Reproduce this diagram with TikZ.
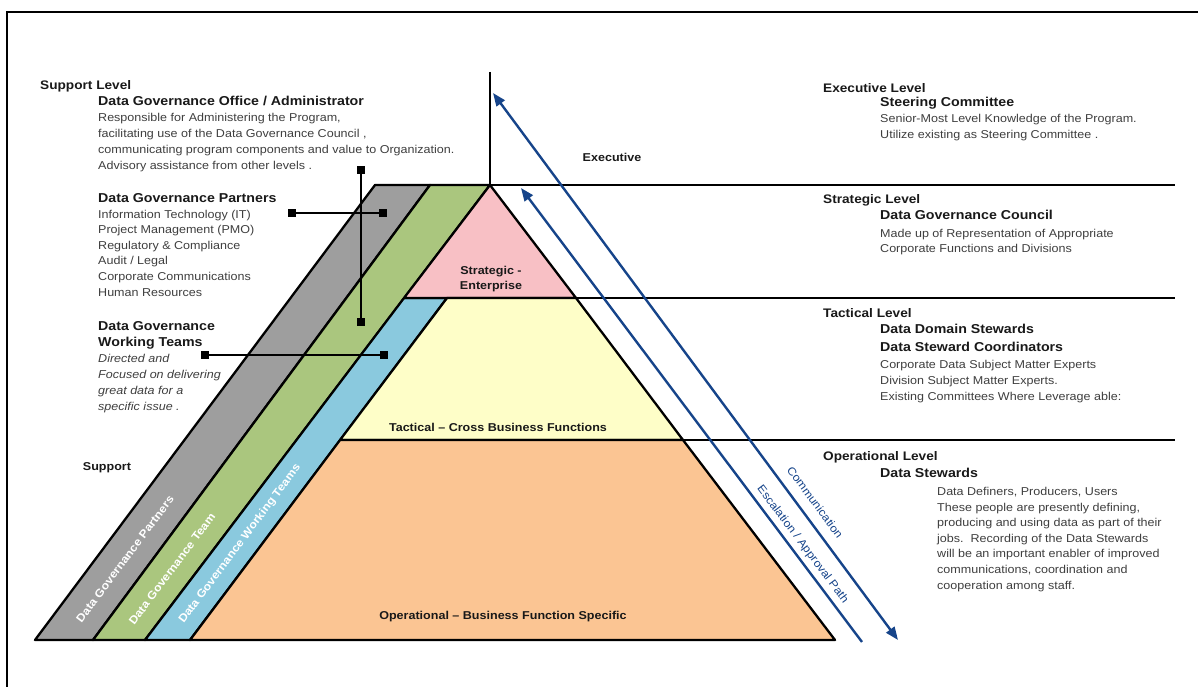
\documentclass[tikz,border=0pt]{standalone}
\usepackage{fontspec}
\setmainfont{Liberation Sans}[FakeStretch=1.1]
\usetikzlibrary{arrows.meta}

\definecolor{bandgray}{RGB}{158,158,158}
\definecolor{bandgreen}{RGB}{170,198,126}
\definecolor{bandblue}{RGB}{138,201,222}
\definecolor{tierpink}{RGB}{248,192,197}
\definecolor{tieryellow}{RGB}{254,254,200}
\definecolor{tierorange}{RGB}{251,197,147}
\definecolor{flowblue}{RGB}{22,68,138}
\definecolor{desctext}{RGB}{62,62,62}
\definecolor{headtext}{RGB}{25,25,25}

\tikzset{flowtip/.tip={Triangle[length=13pt,width=10pt]}}

\begin{document}
\begin{tikzpicture}[x=1pt,y=-1pt,
  outline/.style={draw=black, line width=2.3pt, line join=round},
  rule/.style={draw=black, line width=2.6pt},
  lvl/.style={anchor=base west, inner sep=0, text=headtext, font=\fontsize{12.4}{14}\selectfont\bfseries},
  role/.style={anchor=base west, inner sep=0, align=left, text=headtext, font=\fontsize{12.9}{18}\selectfont\bfseries},
  desc/.style={anchor=base west, inner sep=0, align=left, text=desctext, font=\fontsize{11.4}{16}\selectfont},
  tier/.style={inner sep=0, align=center, text=headtext, font=\fontsize{11.4}{15}\selectfont\bfseries},
  bandtext/.style={inner sep=0, text=white, rotate=53.2, font=\fontsize{11.2}{12}\selectfont\bfseries},
  marker/.style={fill=black, minimum size=8pt, inner sep=0, outer sep=0},
  link/.style={draw=black, line width=1.6pt},
  flow/.style={draw=flowblue, line width=2.4pt},
  flowtext/.style={text=flowblue, inner sep=0, font=\fontsize{11.2}{12}\selectfont}
]
\useasboundingbox (0,0) rectangle (1198,687);

% frame
\draw[line width=1.8pt] (7,687) -- (7,12) -- (1198,12);

% pyramid corners
\coordinate (apex) at (490,185);
\coordinate (gTL) at (375,185);
\coordinate (gTR) at (430,185);
\coordinate (gBL) at (35,640);
\coordinate (gBR) at (93,640);
\coordinate (grBR) at (145,640);
\coordinate (pL) at (404,298);
\coordinate (pR) at (576,298);
\coordinate (bTR) at (447,298);
\coordinate (bBR) at (190,640);
\coordinate (yBL) at (340,440);
\coordinate (yBR) at (683,440);
\coordinate (oBR) at (835,640);

% support bands
\draw[outline, fill=bandgray] (gTL) -- (gTR) -- (gBR) -- (gBL) -- cycle;
\draw[outline, fill=bandgreen] (gTR) -- (apex) -- (grBR) -- (gBR) -- cycle;
\draw[outline, fill=bandblue] (pL) -- (bTR) -- (bBR) -- (grBR) -- cycle;

% pyramid tiers
\draw[outline, fill=tierpink] (apex) -- (pR) -- (pL) -- cycle;
\draw[outline, fill=tieryellow] (bTR) -- (pR) -- (yBR) -- (yBL) -- cycle;
\draw[outline, fill=tierorange] (yBL) -- (yBR) -- (oBR) -- (bBR) -- cycle;

% level rules
\coordinate (topV) at (490,72);
\coordinate (r1) at (1175,185);
\coordinate (r2) at (1175,298);
\coordinate (r3) at (1175,440);
\draw[rule] (topV) -- (apex);
\draw[rule] (gTL) -- (r1);
\draw[rule] (pL) -- (r2);
\draw[rule] (yBL) -- (r3);
\draw[rule] (gBL) -- (oBR);

% band labels
\node[bandtext] (bl1) at (125,559) {Data Governance Partners};
\node[bandtext] (bl2) at (172,569) {Data Governance Team};
\node[bandtext] (bl3) at (240,544) {Data Governance Working Teams};

% tier labels
\node[tier] (tS) at (491,279) {Strategic -\\Enterprise};
\node[tier] (tT) at (498,427) {Tactical – Cross Business Functions};
\node[tier] (tO) at (503,617) {Operational – Business Function Specific};
\node[tier] (tE) at (612,157) {Executive};
\node[tier] (tSu) at (107,468) {Support};

% pointers from the left texts into the bands
\node[marker] (m1) at (361,170) {};
\node[marker] (m2) at (361,322) {};
\node[marker] (m3) at (292,213) {};
\node[marker] (m4) at (383,213) {};
\node[marker] (m5) at (205,355) {};
\node[marker] (m6) at (384,355) {};
\draw[link] (m1) -- (m2);
\draw[link] (m3) -- (m4);
\draw[link] (m5) -- (m6);

% communication and escalation paths
\coordinate (c1) at (898,640);
\coordinate (c2) at (493,93);
\coordinate (e1) at (862,642);
\coordinate (e2) at (521,188);
\draw[flow, {flowtip}-{flowtip}] (c2) -- node[flowtext, pos=0.765, sloped, above=10pt] (lc) {Communication} (c1);
\draw[flow, {flowtip}-] (e2) -- node[flowtext, pos=0.8, sloped, above=4.5pt] (le) {Escalation / Approval Path} (e1);

% left column (nodes anchored at the baseline of their last line)
\node[lvl] (sl) at (40,90) {Support Level};
\node[role] (dgo) at (98,106) {Data Governance Office / Administrator};
\node[desc] (dgod) at (98,170) {Responsible for Administering the Program,\\facilitating use of the Data Governance Council ,\\communicating program components and value to Organization.\\Advisory assistance from other levels .};
\node[role] (dgp) at (98,202) {Data Governance Partners};
\node[desc, font=\fontsize{11.4}{15.6}\selectfont] (dgpd) at (98,296) {Information Technology (IT)\\Project Management (PMO)\\Regulatory \& Compliance\\Audit / Legal\\Corporate Communications\\Human Resources};
\node[role, font=\fontsize{12.9}{16}\selectfont\bfseries] (dgw) at (98,346) {Data Governance\\Working Teams};
\node[desc, font=\fontsize{11.4}{16}\selectfont\itshape] (dgwd) at (98,410) {Directed and\\Focused on delivering\\great data for a\\specific issue .};

% right column
\node[lvl] (el) at (823,93) {Executive Level};
\node[role] (sc) at (880,107) {Steering Committee};
\node[desc] (scd) at (880,139) {Senior-Most Level Knowledge of the Program.\\Utilize existing as Steering Committee .};
\node[lvl] (stl) at (823,203) {Strategic Level};
\node[role] (dgc) at (880,219) {Data Governance Council};
\node[desc, font=\fontsize{11.4}{15}\selectfont] (dgcd) at (880,252) {Made up of Representation of Appropriate\\Corporate Functions and Divisions};
\node[lvl] (tl) at (823,317) {Tactical Level};
\node[role] (dds) at (880,351) {Data Domain Stewards\\Data Steward Coordinators};
\node[desc] (ddsd) at (880,400) {Corporate Data Subject Matter Experts\\Division Subject Matter Experts.\\Existing Committees Where Leverage able:};
\node[lvl] (ol) at (823,460) {Operational Level};
\node[role] (ds) at (880,477) {Data Stewards};
\node[desc, font=\fontsize{11.4}{15.6}\selectfont] (dsd) at (937,589) {Data Definers, Producers, Users\\These people are presently defining,\\producing and using data as part of their\\jobs.\ \ Recording of the Data Stewards\\will be an important enabler of improved\\communications, coordination and\\cooperation among staff.};
\end{tikzpicture}
\end{document}
